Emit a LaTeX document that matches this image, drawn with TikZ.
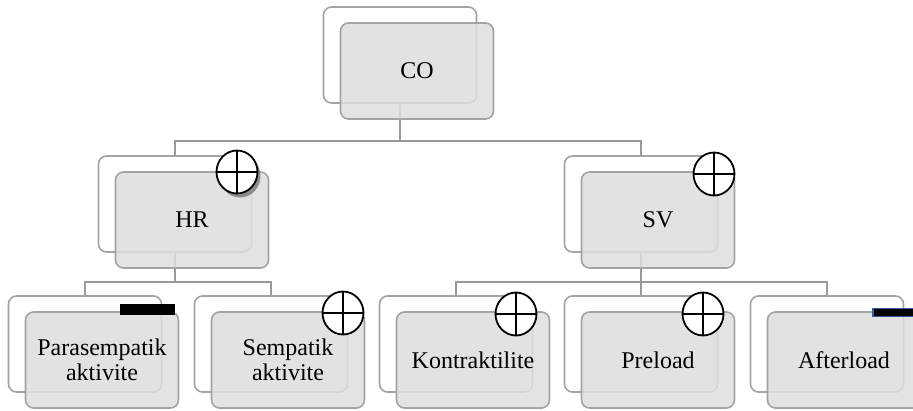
\documentclass[tikz,border=0pt]{standalone}
\usepackage{fontspec}
\setmainfont{Liberation Serif}
\usetikzlibrary{shapes.geometric}
\definecolor{boxgray}{HTML}{A3A3A3}
\definecolor{linegray}{HTML}{999999}
\definecolor{fillgray}{HTML}{DEDEDE}
\definecolor{shadowgray}{HTML}{8C8C8C}
\definecolor{barblue}{HTML}{3C5A96}
\begin{document}
\begin{tikzpicture}[x=1pt,y=-1pt,
  backbox/.style={draw=boxgray, line width=1.6pt, rounded corners=8pt, minimum width=153pt, minimum height=96pt, inner sep=0pt, fill=white},
  frontbox/.style={draw=boxgray, line width=1.6pt, rounded corners=8pt, minimum width=153pt, minimum height=96pt, inner sep=0pt, fill=fillgray, fill opacity=0.85, text opacity=1, align=center, font=\fontsize{24}{25}\selectfont},
  conn/.style={draw=linegray, line width=1.6pt},
  plusmark/.style={ellipse, draw=black, line width=1.8pt, fill=white, minimum width=41pt, minimum height=43pt, inner sep=0pt},
  crossline/.style={draw=black, line width=1.8pt},
  minusbar/.style={rectangle, fill=black, inner sep=0pt}
]
\useasboundingbox (0,0) rectangle (913,410);
% back boxes
\node[backbox] (coB) at (400,55) {};
\node[backbox] (hrB) at (175,204) {};
\node[backbox] (svB) at (641,204) {};
\node[backbox] (pB) at (85,344) {};
\node[backbox] (sB) at (271,344) {};
\node[backbox] (kB) at (456,344) {};
\node[backbox] (prB) at (641,344) {};
\node[backbox] (aB) at (827,344) {};
% connectors
\coordinate (j1) at (400,141);
\coordinate (j2) at (175,282);
\coordinate (j3) at (641,282);
\draw[conn] (coB.south) -- (j1);
\draw[conn] (j1) -| (hrB.north);
\draw[conn] (j1) -| (svB.north);
\draw[conn] (hrB.south) -- (j2);
\draw[conn] (j2) -| (pB.north);
\draw[conn] (j2) -| (sB.north);
\draw[conn] (svB.south) -- (j3);
\draw[conn] (j3) -| (kB.north);
\draw[conn] (j3) -| (prB.north);
\draw[conn] (j3) -| (aB.north);
% front boxes
\node[frontbox] (co) at (417,71) {CO};
\node[frontbox] (hr) at (192,220) {HR};
\node[frontbox] (sv) at (658,220) {SV};
\node[frontbox] (p) at (102,360) {Parasempatik\\aktivite};
\node[frontbox] (s) at (288,360) {Sempatik\\aktivite};
\node[frontbox] (k) at (473,360) {Kontraktilite};
\node[frontbox] (pr) at (658,360) {Preload};
\node[frontbox] (a) at (844,360) {Afterload};
% markers
\node[ellipse, fill=shadowgray, minimum width=41pt, minimum height=43pt, inner sep=0pt] (hrShadow) at (240,176) {};
\foreach \n/\x/\y in {hrM/237/172, svM/714/174, sM/343/313, kM/516/314, prM/703/314}{
  \node[plusmark] (\n) at (\x,\y) {};
  \draw[crossline] (\n.north) -- (\n.south);
  \draw[crossline] (\n.west) -- (\n.east);
}
\node[minusbar, minimum width=55pt, minimum height=11pt] (pBar) at (147.5,309.5) {};
\node[minusbar, draw=barblue, line width=1.2pt, minimum width=42pt, minimum height=8pt] (aBar) at (894,312.5) {};
\end{tikzpicture}
\end{document}
